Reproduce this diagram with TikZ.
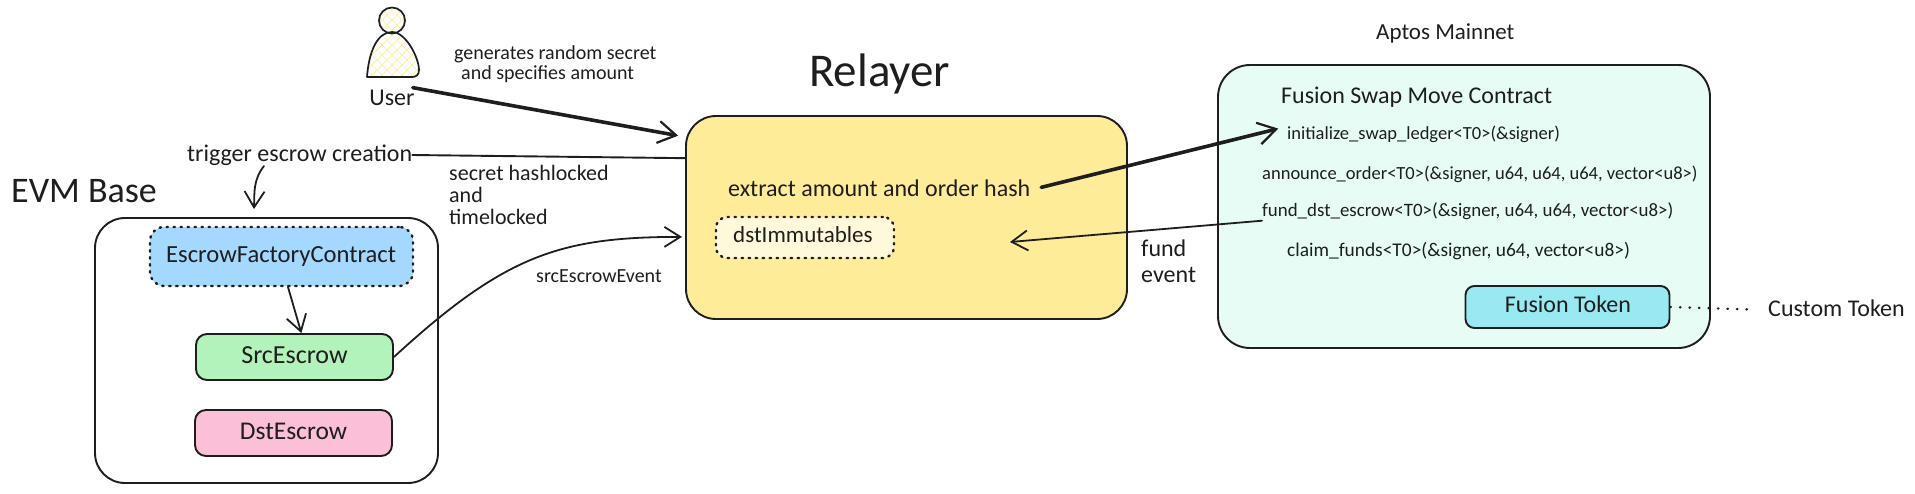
\documentclass[tikz,border=0pt]{standalone}
\usepackage{fontspec}
\setmainfont{Carlito}
\usetikzlibrary{arrows.meta,calc}
\definecolor{ink}{HTML}{1E1E1E}
\definecolor{fblue}{HTML}{A5D8FF}
\definecolor{fgreen}{HTML}{B2F2BB}
\definecolor{fpink}{HTML}{FBC0D8}
\definecolor{fyellow}{HTML}{FFEC99}
\definecolor{fcream}{HTML}{FFF9DB}
\definecolor{fmint}{HTML}{E6FCF5}
\definecolor{fcyan}{HTML}{99E9F2}
\tikzset{
  x=1pt,y=-1pt,
  every node/.style={text=ink},
  box/.style={draw=ink,line width=1.9pt,rounded corners=#1,inner sep=0pt,anchor=center},
  box/.default=12pt,
  dottedbox/.style={box=#1,dash pattern=on 1.5pt off 5.5pt,line width=2.4pt,line cap=round},
  txt/.style={inner sep=0pt,text height=.7*#1pt,text depth=.2*#1pt,font=\fontsize{#1}{#1}\selectfont},
  multi/.style={inner sep=0pt,align=left,font=\fontsize{#1}{22}\selectfont},
  conn/.style={draw=ink,line width=1.8pt,line cap=round,-{Straight Barb[length=16pt,width=20pt,line width=1.8pt]}},
  heavy/.style={conn,line width=3.6pt,-{Straight Barb[length=18pt,width=22pt,line width=2.2pt]}},
  plainline/.style={draw=ink,line width=1.9pt,line cap=round},
  dotline/.style={draw=ink,line width=2.4pt,line cap=round,dash pattern=on .5pt off 9pt},
}
\begin{document}
\begin{tikzpicture}
\useasboundingbox (0,0) rectangle (1915,493);
% containers
\node[box=30pt,minimum width=343pt,minimum height=265pt] (evm) at (266.5,350.5) {};
\node[box=30pt,fill=fyellow,minimum width=441pt,minimum height=203pt] (relayer) at (906.5,217.5) {};
\node[box=32pt,fill=fmint,minimum width=492pt,minimum height=283pt] (aptos) at (1464,206.5) {};
% inner boxes
\node[dottedbox=14pt,fill=fblue,minimum width=263pt,minimum height=59pt] (factory) at (281.5,256.5) {};
\node[box=11pt,fill=fgreen,minimum width=197pt,minimum height=46pt] (src) at (294.5,357) {};
\node[box=11pt,fill=fpink,minimum width=197pt,minimum height=46pt] (dst) at (293.5,433) {};
\node[dottedbox=11pt,fill=fcream,minimum width=178pt,minimum height=41pt] (immut) at (805,237.5) {};
\node[box=9pt,fill=fcyan,minimum width=204pt,minimum height=42pt] (token) at (1567.5,307) {};
% user figure
\begin{scope}
  \clip (392,20.5) circle (13);
  \foreach \k in {-60,-50,...,60}{
    \draw[fyellow,line width=.7pt] (392+\k-30,-10) -- (392+\k+40,60);
    \draw[fyellow,line width=.7pt] (392+\k+30,-10) -- (392+\k-40,60);
  }
\end{scope}
\begin{scope}
  \clip (367,77) .. controls (369,50) and (378,32) .. (392,32) .. controls (406,32) and (419,58) .. (419,70) .. controls (419,75) and (416,77) .. (412,77) -- cycle;
  \foreach \k in {-100,-90,...,100}{
    \draw[fyellow,line width=.7pt] (392+\k-30,25) -- (392+\k+30,85);
    \draw[fyellow,line width=.7pt] (392+\k+30,25) -- (392+\k-30,85);
  }
\end{scope}
\draw[ink,line width=1.7pt] (392,20.5) circle (13);
\draw[ink,line width=1.7pt,line join=round] (367,77) .. controls (369,50) and (378,32) .. (392,32) .. controls (406,32) and (419,58) .. (419,70) .. controls (419,75) and (416,77) .. (412,77) -- cycle;
% labels
\node[txt=24] (userlbl) at (392,99) {User};
\node[multi=20,anchor=west] (gen) at (454,64) {generates random secret\\[-2pt]\hspace*{7pt}and specifies amount};
\node[txt=36,anchor=west] (evmlbl) at (11,193) {EVM Base};
\node[txt=24,anchor=west] (trig) at (187,155) {trigger escrow creation};
\node[multi=22,anchor=west] (lock) at (449,195) {secret hashlocked\\and\\timelocked};
\node[txt=20,anchor=west] (evt) at (536,277) {srcEscrowEvent};
\node[txt=47,anchor=west] (reltitle) at (809,75) {Relayer};
\node[txt=24,anchor=west] (extract) at (728,190) {extract amount and order hash};
\node[txt=23,anchor=west] (immlbl) at (733,237) {dstImmutables};
\node[inner sep=0pt,align=left,font=\fontsize{24}{26}\selectfont,anchor=west] (fundev) at (1141,261) {fund\\event};
\node[txt=23,anchor=west] (aptoslbl) at (1376,34) {Aptos Mainnet};
\node[txt=24,anchor=west] (move) at (1281,97) {Fusion Swap Move Contract};
\node[txt=18.5,anchor=west] (init) at (1287,135) {initialize\_swap\_ledger<T0>(\&signer)};
\node[txt=18.5,anchor=west] (ann) at (1262,175) {announce\_order<T0>(\&signer, u64, u64, u64, vector<u8>)};
\node[txt=18.9,anchor=west] (fdst) at (1262,212) {fund\_dst\_escrow<T0>(\&signer, u64, u64, vector<u8>)};
\node[txt=19.4,anchor=west] (claim) at (1287,252) {claim\_funds<T0>(\&signer, u64, vector<u8>)};
\node[txt=24.6,anchor=west] (factlbl) at (166,256) {EscrowFactoryContract};
\node[txt=26] (srclbl) at (src.center) {SrcEscrow};
\node[txt=25.5] (dstlbl) at (dst.center) {DstEscrow};
\node[txt=24] (toklbl) at (1568,306) {Fusion Token};
\node[txt=24,anchor=west] (custom) at (1768,310) {Custom Token};
\coordinate (fundend) at (1010,242);
% connectors
\draw[heavy,shorten >=7pt,shorten <=-2pt] (userlbl.north east) -- (relayer.160.6);
\draw[plainline] (trig.east) -- (relayer.165.1);
\draw[conn] ($(trig.south west)+(77,0)$) .. controls ($(trig.south west)+(66,14)$) and ($(evm.north)+(-12,-24)$) .. ($(evm.north)+(-12.5,-8)$);
\draw[conn] (factory.282.4) -- (src.74.2);
\draw[conn,shorten >=3pt] (src.east) .. controls (505,255) and (560,237) .. (relayer.185.05);
\draw[heavy,shorten <=11pt,shorten >=9pt] (extract.east) -- (init.north west);
\draw[conn] (fdst.south west) -- (fundend);
\draw[dotline,shorten >=14pt] (token.east) -- (custom.west);
\end{tikzpicture}
\end{document}
